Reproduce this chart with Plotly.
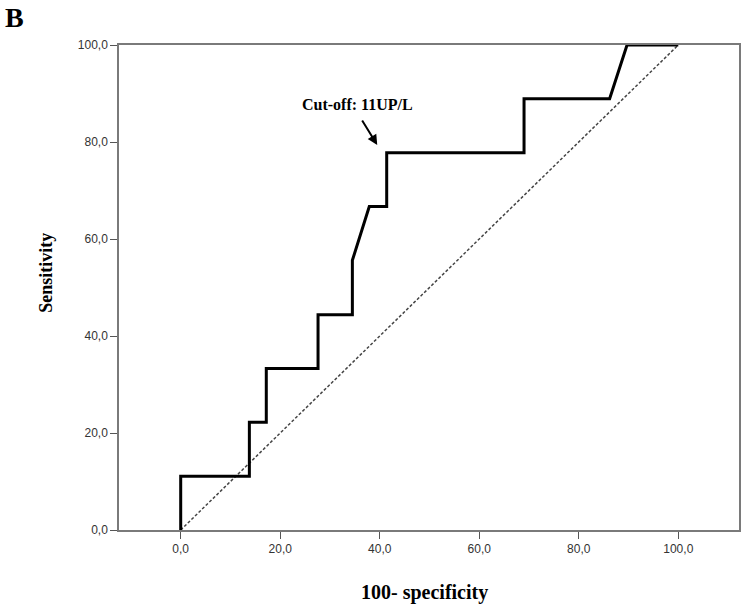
import plotly.graph_objects as go

# ROC curve points (100 - specificity, sensitivity)
fpr = [0.0, 0.0, 13.8, 13.8, 17.2, 17.2, 27.6, 27.6, 34.5, 34.5, 37.9, 41.4, 41.4, 69.0, 69.0, 86.2, 89.7, 100.0]
tpr = [0.0, 11.1, 11.1, 22.2, 22.2, 33.3, 33.3, 44.4, 44.4, 55.6, 66.7, 66.7, 77.8, 77.8, 88.9, 88.9, 100.0, 100.0]
ref_x = [0.0, 100.0]
ref_y = [0.0, 100.0]
tick_vals = [0, 20, 40, 60, 80, 100]
tick_text = ["0,0", "20,0", "40,0", "60,0", "80,0", "100,0"]
cutoff_label = "Cut-off: 11UP/L"
cutoff_point = (39.5, 79.4)

serif = "Liberation Serif"
sans = "Liberation Sans"

fig = go.Figure()
fig.add_trace(go.Scatter(x=ref_x, y=ref_y, mode="lines",
                         line=dict(color="#444444", width=1.5, dash="3px,2px"),
                         hoverinfo="skip", showlegend=False))
fig.add_trace(go.Scatter(x=fpr, y=tpr, mode="lines",
                         line=dict(color="black", width=3),
                         showlegend=False))

axis_common = dict(
    showgrid=False, zeroline=False, showline=True, mirror=True,
    linecolor="#7a7a7a", linewidth=1.5,
    ticks="outside", ticklen=7, tickwidth=1.2, tickcolor="#555555",
    tickfont=dict(family=sans, size=12, color="#333333"),
    tickvals=tick_vals, ticktext=tick_text,
)

fig.update_layout(
    width=745, height=610,
    margin=dict(l=119, r=4, t=45, b=80),
    paper_bgcolor="white", plot_bgcolor="white",
    xaxis=dict(range=[-12.4, 112.2], **axis_common),
    yaxis=dict(range=[0, 100], **axis_common),
)

# arrow
fig.add_annotation(x=cutoff_point[0], y=cutoff_point[1], xref="x", yref="y",
                   text="", showarrow=True, ax=-16, ay=-26,
                   arrowhead=2, arrowsize=1, arrowwidth=2, arrowcolor="black", standoff=0)
# label
fig.add_annotation(x=35.5, y=87.8, xref="x", yref="y", text="<b>" + cutoff_label + "</b>",
                   showarrow=False, font=dict(family=serif, size=16, color="black"),
                   xanchor="center", yanchor="middle")
# axis titles
fig.add_annotation(x=0.493, y=-0.128, xref="paper", yref="paper",
                   text="<b>100- specificity</b>", showarrow=False,
                   font=dict(family=serif, size=20, color="black"),
                   xanchor="center", yanchor="middle")
fig.add_annotation(x=-0.118, y=0.53, xref="paper", yref="paper",
                   text="<b>Sensitivity</b>", showarrow=False, textangle=-90,
                   font=dict(family=serif, size=18, color="black"),
                   xanchor="center", yanchor="middle")
fig.add_annotation(x=-0.1865, y=1.057, xref="paper", yref="paper",
                   text="<b>B</b>", showarrow=False,
                   font=dict(family=serif, size=28, color="black"),
                   xanchor="left", yanchor="middle")

fig.write_html("out.html", config={"displayModeBar": False},
               post_script="document.body.style.margin='0';document.body.style.overflow='hidden';")
